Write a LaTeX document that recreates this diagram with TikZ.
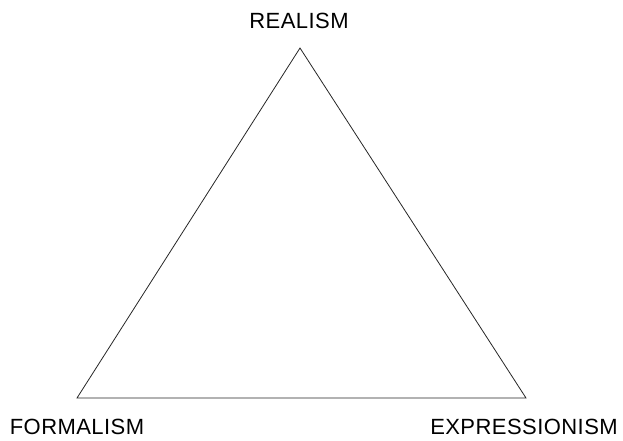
\documentclass[tikz,border=0pt]{standalone}
\usepackage{fontspec}
\setmainfont{Liberation Sans}[LetterSpace=2]
\usetikzlibrary{positioning}

\tikzset{corner label/.style={inner sep=0pt, font=\fontsize{16.5}{19}\selectfont}}

\begin{document}
\begin{tikzpicture}[x=0.75pt, y=-0.75pt]
  \useasboundingbox (0,0) rectangle (623,440);
  % corners
  \coordinate (top) at (300,48);
  \coordinate (left) at (77,398);
  \coordinate (right) at (526,398);
  % triangle
  \draw[line width=0.6pt, black!85] (left)--(top)--(right)--cycle;
  % labels
  \node[corner label] (realism) at (299,21) {REALISM};
  \node[corner label] (formalism) at (77,427) {FORMALISM};
  \node[corner label] (expressionism) at (524,427) {EXPRESSIONISM};
\end{tikzpicture}
\end{document}
